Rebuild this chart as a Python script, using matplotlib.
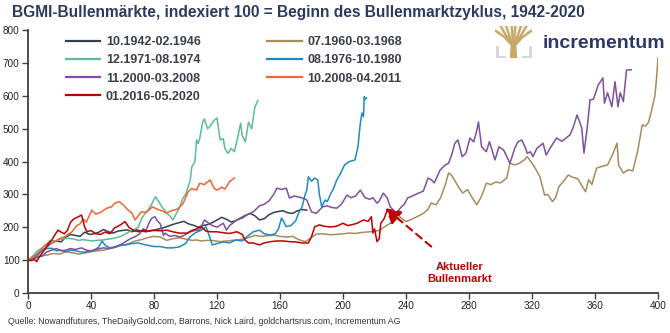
import matplotlib
matplotlib.use("Agg")
import matplotlib.pyplot as plt
from matplotlib.patches import Polygon

plt.rcParams['font.family'] = ['Liberation Sans', 'DejaVu Sans']

# ---------------- data (weeks since start of bull market, index) ----------------
labels = ["10.1942-02.1946", "07.1960-03.1968", "12.1971-08.1974", "08.1976-10.1980",
          "11.2000-03.2008", "10.2008-04.2011", "01.2016-05.2020"]
colors = ["#333F50", "#A68B5B", "#5BBD95", "#1F8AC0", "#7E4F9F", "#F26431", "#C00000"]

x_1942 = [0, 3, 6, 9, 12, 15, 18, 21, 24, 27, 30, 33, 36, 39, 42, 45, 48, 51, 54, 57, 60, 63, 66, 69, 72, 75,
          78, 81, 84, 87, 90, 93, 96, 99, 102, 105, 108, 111, 114, 117, 120, 123, 126, 129, 132, 135, 138,
          141, 144, 147, 150, 153, 156, 159, 162, 165, 168, 171, 174, 177]
y_1942 = [100, 108, 118, 128, 140, 152, 158, 155, 170, 178, 175, 172, 185, 178, 180, 185, 193, 186, 182, 188,
          190, 192, 186, 192, 188, 186, 190, 192, 196, 200, 205, 210, 214, 218, 210, 206, 200, 205, 208, 214,
          222, 230, 224, 216, 220, 228, 236, 242, 235, 222, 226, 238, 245, 248, 250, 244, 242, 250, 254, 252]

x_1960 = [0, 4, 8, 12, 16, 20, 24, 28, 32, 36, 40, 44, 48, 52, 56, 60, 64, 68, 72, 76, 80, 84, 88, 92, 96,
          100, 104, 107, 110, 114, 118, 122, 126, 130, 134, 138, 141, 144, 148, 152, 156, 160, 164, 168, 172,
          176, 179, 183, 187, 192, 196, 200, 204, 208, 212, 217, 220, 223, 226, 230, 233, 236, 240, 244, 247,
          251, 254, 256, 259, 262, 265, 267, 269, 272, 274, 276, 279, 282, 285, 288, 291, 294, 297, 300, 304,
          306, 309, 312, 315, 317, 320, 322, 325, 328, 330, 333, 335, 337, 340, 343, 346, 349, 351, 354, 356,
          358, 361, 364, 368, 371, 374, 375, 378, 381, 384, 387, 390, 392, 394, 396, 398, 399, 400]
y_1960 = [100, 105, 112, 115, 120, 118, 125, 122, 118, 121, 125, 128, 130, 135, 140, 145, 150, 158, 162, 168,
          172, 170, 160, 165, 168, 164, 160, 161, 158, 160, 159, 156, 158, 160, 162, 165, 170, 175, 172, 174,
          176, 172, 170, 172, 162, 156, 165, 179, 180, 177, 178, 180, 182, 181, 184, 186, 188, 190, 200, 212,
          222, 232, 217, 225, 232, 242, 255, 274, 268, 290, 330, 365, 358, 334, 318, 304, 315, 290, 268, 295,
          334, 330, 338, 335, 350, 395, 390, 395, 405, 415, 395, 380, 354, 298, 300, 278, 290, 323, 340, 359,
          352, 348, 332, 308, 345, 330, 380, 385, 390, 420, 456, 389, 365, 375, 372, 430, 512, 508, 520, 557,
          600, 649, 716]

x_1971 = [0, 3, 6, 9, 12, 14, 17, 20, 23, 26, 29, 32, 35, 38, 41, 44, 47, 50, 53, 56, 59, 62, 65, 68, 70,
          72, 74, 76, 78, 80, 81, 83, 85, 87, 88, 90, 92, 94, 96, 98, 100, 101, 103, 104, 106, 107, 108, 109,
          111, 112, 114, 116, 118, 120, 122, 124, 125, 127, 129, 131, 133, 135, 136, 138, 140, 142, 144, 146]
y_1971 = [100, 112, 128, 137, 150, 160, 158, 162, 165, 166, 164, 160, 162, 160, 158, 160, 161, 163, 165, 168,
          172, 180, 188, 195, 200, 225, 240, 252, 265, 285, 293, 278, 262, 250, 243, 235, 222, 240, 258, 285,
          300, 313, 344, 384, 400, 466, 455, 470, 522, 530, 500, 510, 525, 533, 466, 470, 440, 425, 440, 430,
          470, 517, 480, 460, 520, 500, 565, 587]

x_1976 = [0, 3, 6, 9, 12, 15, 18, 21, 24, 27, 30, 33, 36, 39, 42, 45, 47, 49, 52, 55, 58, 62, 66, 70, 73,
          76, 80, 84, 88, 92, 96, 100, 103, 106, 110, 113, 115, 117, 120, 124, 128, 132, 136, 140, 143, 147,
          150, 154, 157, 159, 161, 163, 164, 167, 170, 172, 174, 176, 177, 178, 180, 182, 184, 185, 186.5,
          188.6, 190, 192, 194, 196, 198, 201, 204, 207.6, 209.5, 211, 212, 213, 213.5, 214, 215]
y_1976 = [100, 108, 113, 130, 135, 136, 128, 130, 125, 130, 128, 125, 124, 127, 130, 140, 158, 145, 137, 140,
          145, 146, 150, 152, 148, 145, 141, 141, 137, 137, 140, 150, 171, 182, 191, 201, 175, 146, 150, 155,
          152, 161, 158, 175, 186, 191, 180, 176, 180, 195, 228, 210, 202, 205, 220, 245, 262, 300, 313, 354,
          340, 350, 344, 300, 262, 283, 278, 300, 318, 344, 360, 390, 400, 405, 445, 517, 548, 537, 598, 590,
          594]

x_2000 = [0, 3, 6, 9, 12, 15, 18, 21, 24, 27, 30, 34, 37, 40, 44, 48, 52, 56, 60, 62, 65, 68, 71, 73, 75,
          77, 78.5, 80.6, 82, 84, 86, 87, 90, 93, 96.5, 99, 103, 106, 109, 112, 114, 117, 120, 124, 126, 128,
          132.6, 136, 140, 143, 147, 150, 153, 156, 158, 161, 164, 166, 169, 172, 175, 177, 180, 183, 187,
          190, 193, 196, 199, 202.5, 205, 208, 211, 214, 217, 219, 221.6, 223, 225.6, 228, 230, 233, 234, 237,
          239, 241, 244, 248, 251, 254, 256, 258, 261.6, 265, 267, 269, 271, 273, 275.6, 278, 280.6, 283, 285,
          286, 288, 291, 293, 296.5, 299, 302, 306, 309, 311, 313.6, 316, 317, 319, 320.6, 323, 327, 329, 332,
          335.6, 339, 344, 346, 348.6, 350, 351.6, 353, 355, 356.8, 359, 362, 365, 366, 368, 370.7, 372.7,
          374.6, 376, 378, 380, 383]
y_2000 = [100, 105, 108, 112, 125, 130, 135, 128, 130, 135, 132, 137, 130, 128, 133, 137, 135, 140, 150, 156,
          165, 171, 180, 195, 191, 215, 227, 232, 220, 210, 175, 182, 172, 175, 170, 175, 186, 190, 191, 222,
          215, 205, 200, 212, 191, 205, 222, 228, 240, 247, 265, 270, 280, 300, 319, 315, 319, 289, 295, 292,
          288, 283, 247, 242, 262, 265, 260, 258, 270, 298, 290, 295, 313, 290, 285, 290, 273, 280, 304, 290,
          262, 247, 243, 262, 270, 289, 295, 304, 310, 350, 345, 335, 374, 390, 395, 420, 456, 466, 415, 425,
          472, 460, 496, 521, 445, 430, 461, 405, 445, 435, 395, 440, 460, 466, 440, 425, 430, 415, 440, 456,
          420, 445, 472, 462, 481, 502, 542, 525, 502, 426, 500, 588, 590, 633, 655, 578, 610, 567, 644, 567,
          610, 583, 679, 680]

x_2008 = [0, 3, 6, 9, 11, 14, 17, 20, 23.5, 26, 28, 31, 33, 35, 37, 40.5, 43, 46, 50, 53, 55, 58, 61, 64,
          66, 68, 70, 72, 75, 79, 82, 85, 88, 90, 92, 95, 98.6, 101.6, 104, 107, 109, 112, 115.6, 118, 120,
          123, 125, 128, 131]
y_2008 = [100, 108, 120, 135, 146, 150, 156, 165, 171, 180, 186, 205, 210, 225, 215, 252, 240, 245, 258, 262,
          273, 278, 265, 250, 243, 222, 235, 247, 245, 262, 255, 250, 243, 248, 252, 255, 273, 308, 318, 313,
          334, 330, 344, 320, 313, 322, 316, 339, 350]

x_2016 = [0, 2, 4, 5.5, 7, 9, 11, 13, 15, 17, 19, 21, 23, 25, 27, 29, 32, 34, 36, 37.5, 40, 43, 46, 49, 52,
          55, 58, 61.6, 64, 67, 70, 73, 76, 80, 84, 88, 92, 96, 101, 104, 107, 110, 113, 116, 120, 124, 128,
          132.6, 136, 138, 140, 143, 147, 150, 154, 158, 162, 166, 170, 174, 178, 180, 182, 185, 188, 191,
          193, 196, 200, 203, 206, 209, 213, 216, 218, 219, 220, 221.6, 223, 224, 226, 228]
y_2016 = [100, 98, 102, 95, 108, 121, 135, 150, 160, 176, 191, 185, 180, 190, 215, 225, 232, 237, 200, 186,
          190, 180, 178, 185, 180, 198, 205, 217, 200, 190, 186, 190, 188, 190, 189, 191, 186, 182, 182, 190,
          195, 201, 188, 186, 186, 183, 181, 186, 178, 160, 152, 152, 146, 152, 156, 158, 158, 156, 155, 152,
          152, 171, 201, 207, 203, 201, 201, 203, 212, 205, 208, 212, 222, 218, 232, 182, 195, 156, 165, 212,
          225, 250]

series_x = [x_1942, x_1960, x_1971, x_1976, x_2000, x_2008, x_2016]
series_y = [y_1942, y_1960, y_1971, y_1976, y_2000, y_2008, y_2016]

xticks = list(range(0, 401, 40))
yticks = list(range(0, 801, 100))

title = "BGMI-Bullenmärkte, indexiert 100 = Beginn des Bullenmarktzyklus, 1942-2020"
source = "Quelle: Nowandfutures, TheDailyGold.com, Barrons, Nick Laird, goldchartsrus.com, Incrementum AG"
annot_text = "Aktueller\nBullenmarkt"

# ---------------- figure ----------------
W, H = 670, 333
fig = plt.figure(figsize=(W / 100, H / 100), dpi=100)
ax = fig.add_axes([28 / W, (H - 292.8) / H, (658 - 28) / W, (292.8 - 30.4) / H])

handles = []
for xs, ys, c, lab in zip(series_x, series_y, colors, labels):
    h, = ax.plot(xs, ys, color=c, lw=1.1, label=lab, solid_joinstyle='round')
    handles.append(h)

ax.set_xlim(0, 400)
ax.set_ylim(0, 800)
ax.set_xticks(xticks)
ax.set_yticks(yticks)
for s in ['top', 'right']:
    ax.spines[s].set_visible(False)
for s in ['left', 'bottom']:
    ax.spines[s].set_color('#404040')
    ax.spines[s].set_linewidth(1.3)
ax.tick_params(axis='both', colors='#404040', labelcolor='#222222', labelsize=7.2,
               length=4, width=1.0, direction='out', pad=2)

# legend: row-major order in reference -> column-major input
order = [0, 2, 4, 6, 1, 3, 5]
leg = ax.legend([handles[i] for i in order], [labels[i] for i in order], ncol=2,
                loc='upper left', bbox_to_anchor=(66 / W, 1 - 36 / H), bbox_transform=fig.transFigure,
                frameon=False, borderpad=0, borderaxespad=0, handlelength=2.75, handletextpad=0.45,
                columnspacing=5.3, labelspacing=0.5,
                prop={'family': 'Liberation Sans', 'weight': 'bold', 'size': 9})
for t in leg.get_texts():
    t.set_color('#3A3F4B')
for lh in leg.get_lines():
    lh.set_linewidth(1.6)

# annotation arrow
ax.annotate("", xy=(227, 258), xytext=(256, 141),
            arrowprops=dict(arrowstyle='-|>,head_length=0.9,head_width=0.5', color='#C00000',
                            lw=1.5, linestyle=(0, (3.5, 2.5)), shrinkA=0, shrinkB=0))
ax.text(274, 61, annot_text, color='#C00000', fontsize=8, fontweight='bold',
        ha='center', va='center', linespacing=1.2)

# title and source
fig.text(12 / W, 1 - 12 / H, title, color='#2B3A5E', fontsize=11.2, fontweight='bold',
         ha='left', va='center')
fig.text(8 / W, 1 - 322 / H, source, color='#333333', fontsize=6.3, ha='left', va='center')

# logo
fig.text(543 / W, 1 - 43 / H, "incrementum", color='#2E3A66', fontsize=14, fontweight='bold',
         ha='left', va='center')
lax = fig.add_axes([495 / W, 1 - 58 / H, 37 / W, 32 / H])
lax.set_xlim(0, 1)
lax.set_ylim(0, 1)
lax.axis('off')
gold = '#C8A96A'
grey = '#D5D5D5'
lax.plot([0.05, 0.05, 0.25], [0.35, 0.04, 0.04], color=grey, lw=2)
lax.plot([0.95, 0.95, 0.75], [0.35, 0.04, 0.04], color=grey, lw=2)
lax.add_patch(Polygon([[0.42, 0.0], [0.58, 0.0], [0.56, 0.38], [0.44, 0.38]], closed=True, color=gold))
for tx in [0.02, 0.15, 0.3, 0.45, 0.55, 0.7, 0.85, 0.98]:
    ty = 1.0 if 0.1 < tx < 0.9 else 0.85
    lax.plot([0.5, 0.5 + (tx - 0.5) * 0.5, tx], [0.35, 0.65, ty], color=gold, lw=1.8,
             solid_capstyle='round')

fig.savefig("out.png", dpi=100)
